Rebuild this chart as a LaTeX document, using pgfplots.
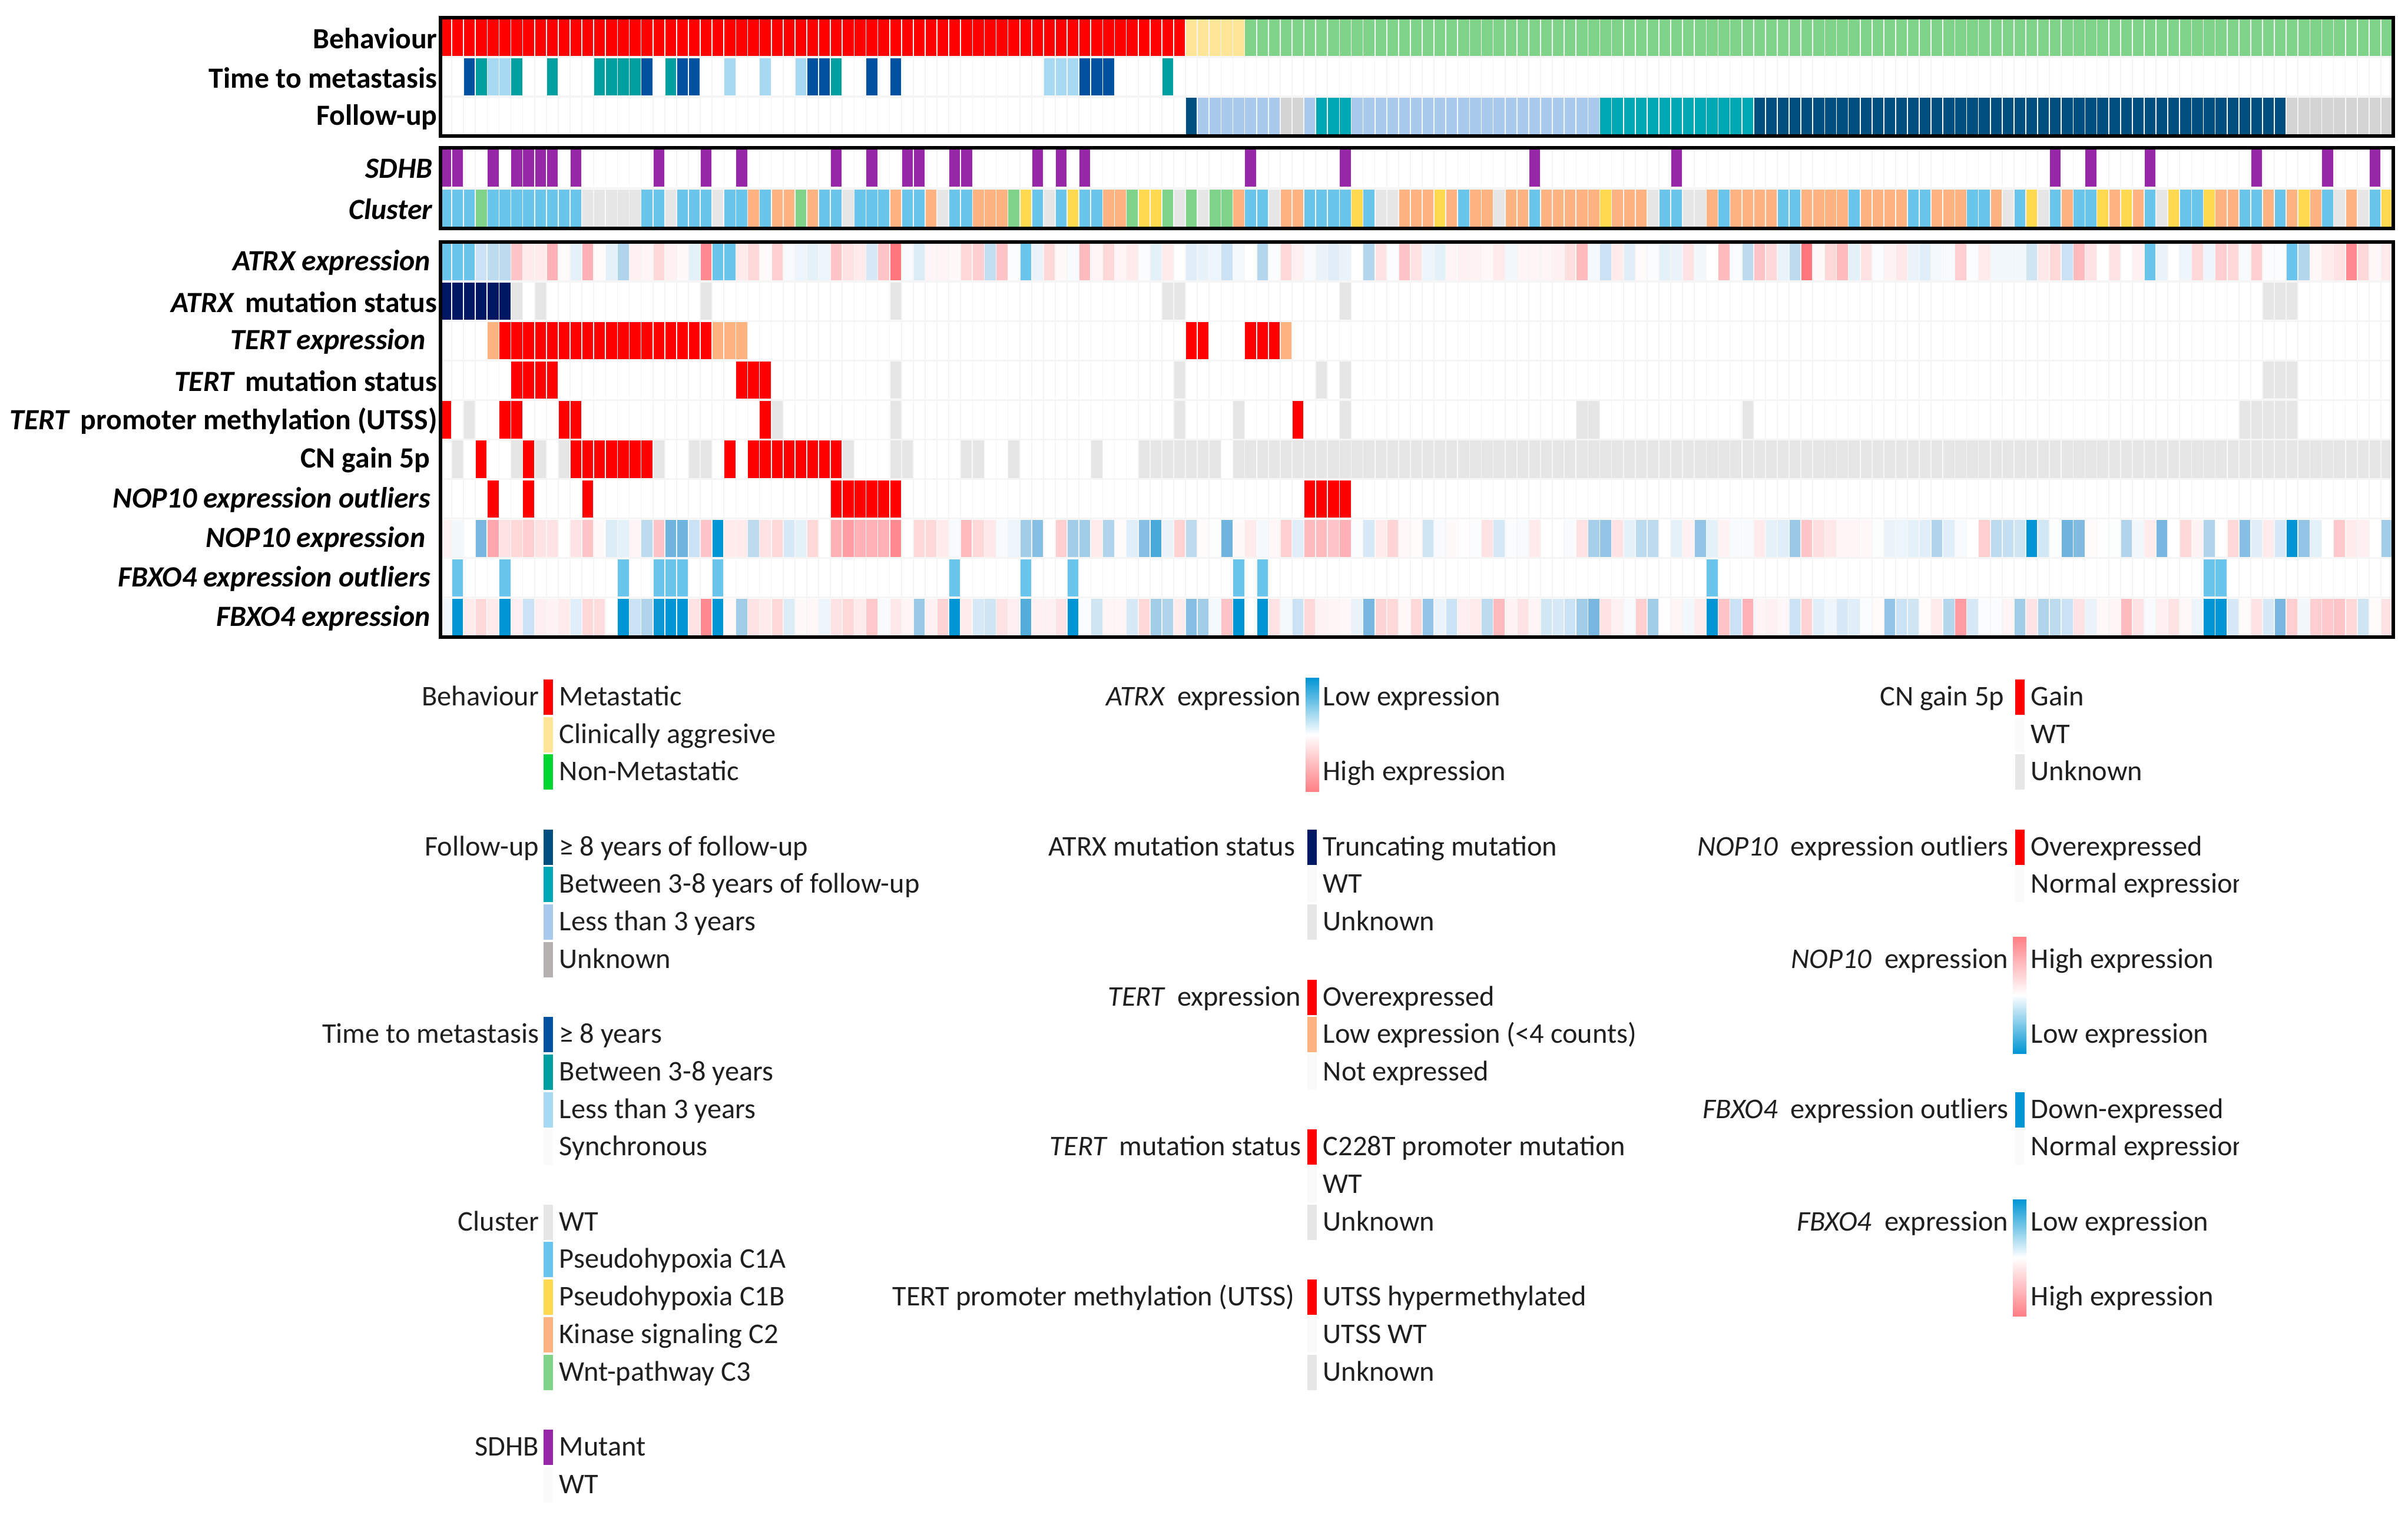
\documentclass[border=0pt]{standalone}
\usepackage{fontspec}
\setmainfont{Carlito}
\usepackage{pgfplots}
\usepackage{pgfplotstable}
\pgfplotsset{compat=1.18}

% 1 px of the reference = 0.25pt
\pgfdeclareplotmark{cell}{\pgfpathrectangle{\pgfpoint{-2.3pt}{-7.9pt}}{\pgfpoint{4.6pt}{15.8pt}}\pgfusepathqfill}
\pgfdeclareplotmark{key}{\pgfpathrectangle{\pgfpoint{-2pt}{-7.4pt}}{\pgfpoint{4pt}{14.8pt}}\pgfusepathqfill}

\definecolor{cRed}{HTML}{FF0000}
\definecolor{cAggr}{HTML}{FFE597}
\definecolor{cNonm}{HTML}{7FD48A}
\definecolor{cNonmKey}{HTML}{00D632}
\definecolor{tBlue}{HTML}{00529F}
\definecolor{tTeal}{HTML}{00A0A0}
\definecolor{tLight}{HTML}{A7DAF2}
\definecolor{fDark}{HTML}{004F7E}
\definecolor{fTeal}{HTML}{00A7B5}
\definecolor{fLight}{HTML}{A9CAEC}
\definecolor{fGrey}{HTML}{D4D4D4}
\definecolor{fGreyKey}{HTML}{B5B0B0}
\definecolor{cPurple}{HTML}{9628A8}
\definecolor{kBlue}{HTML}{69C5EB}
\definecolor{kYellow}{HTML}{FFD94F}
\definecolor{kOrange}{HTML}{FFB380}
\definecolor{kGrey}{HTML}{E6E6E6}
\definecolor{cNavy}{HTML}{001763}
\definecolor{hLow}{HTML}{0095D4}
\definecolor{hHigh}{HTML}{FF7F85}

% columns: sample, ATRX expression, NOP10 expression, FBXO4 expression
\pgfplotstableread{
i atrx nop fbxo
0 -6 0.7 -0.5
1 -6 -0.5 -10
2 -6 0 1
3 -2 -5 2
4 -2.5 4.5 1
5 -2.5 1.5 -10
6 3 2 0.8
7 1 2.5 -2
8 1 1.5 0.8
9 4 1.5 0.6
10 0.2 0 1
11 -1 1.5 -1.2
12 4 3 2
13 0.2 0.3 1.8
14 -1 -1.3 0
15 -3 -1 -10
16 0.7 0.5 -2
17 0.5 -2.5 -3
18 2 3 -9.5
19 0.7 -5.5 -10
20 0.3 -5.5 -10
21 -1 -2 1.5
22 6 3 6
23 -6 -10 -10
24 -6 1 0.4
25 1 1 -3.5
26 2 -2.5 1.5
27 0.2 1.5 1
28 2.5 2 2
29 -0.3 -1.5 -1.3
30 -0.7 -1 0.3
31 -1 2 0.4
32 -0.7 0 -0.7
33 3 4 1.5
34 1.5 5 2
35 1 4 1
36 -1.5 4 2.8
37 3 4 -0.3
38 7 6 1.2
39 -0.3 0 0.5
40 -1.3 2 -3.8
41 0.5 2 0.7
42 0.5 1 2.2
43 0.3 -0.3 -10
44 2 3.5 1
45 2.5 2 -1.5
46 -2.3 1.2 -1.8
47 3 -0.3 1.5
48 -0.2 -0.7 0.8
49 -6 -3.5 -6.5
50 -0.8 -4.5 0.7
51 2 0 0.7
52 0.3 2.5 1.5
53 -0.3 -3.5 -10
54 3.5 -3.5 -0.2
55 0.5 1 -1.8
56 2 -3 0.5
57 0.5 0.2 0.5
58 1 -1.2 -1.5
59 -0.2 -4.5 2
60 -1 -7 -3.5
61 1 -0.8 -3
62 0 2.3 1
63 -1.2 -2.5 -4.5
64 -0.9 0.2 -3.5
65 -0.7 -0.1 -0.4
66 -2 -5.5 3
67 -0.4 0.3 -10
68 0 1 0
69 -2.8 -0.4 -10
70 -0.2 0.4 1.5
71 2 2.5 -0.4
72 0.7 -1.2 -2
73 -0.3 3.5 2
74 -0.8 3.5 0.6
75 -1.2 3 0.5
76 -0.8 4 0.4
77 0 -0.2 -0.8
78 -2.8 -1.5 -5
79 1.5 1 2.2
80 -0.2 2.2 2
81 3 0.4 0.4
82 1.5 0.2 2
83 -0.7 -1.8 -4
84 -1 -0.3 -0.8
85 0.5 0.3 -2
86 0.7 0.1 0.8
87 0.6 -0.2 1
88 0.4 1.5 -2.5
89 1 -1.6 3.5
90 -0.5 -0.2 0.6
91 0.5 -0.3 1.5
92 0.5 1 0.5
93 0.5 0 -1.7
94 0.7 0 -1.5
95 1.7 -0.3 -2
96 3.5 1.5 -3.5
97 -0.4 -3.3 -5
98 -2 -4 1.5
99 1 1.5 0.7
100 -1.2 -1 -0.3
101 0.2 -2.5 2.5
102 -0.2 -2.5 -3.5
103 -1 0 0.1
104 -0.8 -1 0.5
105 1.5 0.7 -0.5
106 -0.5 -4 1
107 0 -1 -10
108 3.5 0.6 3
109 -0.2 -0.3 -2
110 -2.5 -0.3 4
111 3 1 0.5
112 2 -1 0.7
113 -0.8 -1.2 0.4
114 -2.5 -3.8 -2
115 7 3 2.3
116 0.3 1.7 -1.2
117 2 1.2 -0.6
118 3.5 0.5 -1.5
119 -1 0.5 -1.2
120 1.5 0.4 -0.2
121 -0.2 -0.1 0.2
122 0.6 -0.8 -4
123 1.2 -0.7 -2
124 -0.8 -1 -1.8
125 -1.2 -1.2 0.2
126 -0.4 -3 1
127 -0.3 -1.2 -2.8
128 2.5 -0.3 5
129 -0.2 0 -1.5
130 1 2.5 -0.2
131 -0.5 -2.5 -0.2
132 -0.5 -2.2 0.5
133 -0.5 -1.8 -3.5
134 -1.8 -10 1.5
135 1.2 -1.7 -3
136 2 -0.1 -2.5
137 -2 -5.5 -2
138 3.5 -4.7 1.5
139 1.5 0.2 -0.8
140 0 0.1 0.4
141 1.5 -0.1 0.5
142 0 -3 3.5
143 0.7 -0.5 1.5
144 -6 1 -0.3
145 -0.8 -5 0.8
146 0 0 1.5
147 -0.6 2 0.4
148 2 0.6 -0.7
149 -0.6 -3 -10
150 2.5 0 -10
151 2 2 -1.5
152 -0.3 -4.5 0.2
153 2.5 -1.2 1.5
154 -0.2 1 -1.5
155 -0.2 -1.5 -5
156 -6 -10 2.5
157 -2.8 -4 -0.5
158 0.4 -1 2.5
159 1 0 2.8
160 1.5 2.8 3
161 6 1 2
162 2 0.8 -1.8
163 0.4 0 0.2
164 1 -3.5 1.5
}\heatdata

\tikzset{
  lt/.style={anchor=base west,inner sep=0pt,font=\fontsize{12.1}{14}\selectfont,text=black!88},
  rt/.style={anchor=base east,inner sep=0pt,font=\fontsize{12.1}{14}\selectfont,text=black!88},
}
\pgfplotsset{
  panel/.style={
    scale only axis,
    anchor=south west,
    width=829pt,
    xmin=-0.448, xmax=164.55,
    y dir=reverse,
    ymin=-0.5,
    xtick={-0.5,0.5,...,164.5},
    xticklabels={},
    xmajorgrids=true,
    yminorgrids=true,
    grid style={color=black!4,line width=0.4pt},
    minor grid style={color=black!4,line width=0.8pt},
    major tick length=0pt,
    minor tick length=0pt,
    axis line style={draw=none},
    yticklabel style={font=\fontsize{12.45}{15}\selectfont\bfseries,anchor=east,inner sep=0pt,xshift=-1.2pt,yshift=-0.4pt},
    colormap={heat}{rgb255(0)=(0,149,212) rgb255(5)=(122,183,224) rgb255(10)=(255,255,255) rgb255(20)=(255,60,70)},
    colormap name=heat,
    point meta min=-10, point meta max=10,
    after end axis/.code={\draw[line width=1.3pt] (rel axis cs:0,0) rectangle (rel axis cs:1,1);},
  },
  cell/.style={only marks,mark=cell,color=#1},
  heat/.style={scatter,only marks,mark=cell,point meta=\thisrow{#1}},
  key/.style={only marks,mark=key,color=#1},
}

\begin{document}
\begin{tikzpicture}
\useasboundingbox (0,0) rectangle (1022.25pt,643pt);

% clinical tracks
\begin{axis}[panel, at={(187pt,585.25pt)}, height=50.25pt, ymax=2.5,
  ytick={0,1,2}, minor ytick={0.5,1.5},
  yticklabels={Behaviour,Time to metastasis,Follow-up}]
\addplot[cell=cRed] coordinates {(0,0)(1,0)(2,0)(3,0)(4,0)(5,0)(6,0)(7,0)(8,0)(9,0)(10,0)(11,0)(12,0)(13,0)(14,0)(15,0)(16,0)(17,0)(18,0)(19,0)(20,0)(21,0)(22,0)(23,0)(24,0)(25,0)(26,0)(27,0)(28,0)(29,0)(30,0)(31,0)(32,0)(33,0)(34,0)(35,0)(36,0)(37,0)(38,0)(39,0)(40,0)(41,0)(42,0)(43,0)(44,0)(45,0)(46,0)(47,0)(48,0)(49,0)(50,0)(51,0)(52,0)(53,0)(54,0)(55,0)(56,0)(57,0)(58,0)(59,0)(60,0)(61,0)(62,0)};
\addplot[cell=cAggr] coordinates {(63,0)(64,0)(65,0)(66,0)(67,0)};
\addplot[cell=cNonm] coordinates {(68,0)(69,0)(70,0)(71,0)(72,0)(73,0)(74,0)(75,0)(76,0)(77,0)(78,0)(79,0)(80,0)(81,0)(82,0)(83,0)(84,0)(85,0)(86,0)(87,0)(88,0)(89,0)(90,0)(91,0)(92,0)(93,0)(94,0)(95,0)(96,0)(97,0)(98,0)(99,0)(100,0)(101,0)(102,0)(103,0)(104,0)(105,0)(106,0)(107,0)(108,0)(109,0)(110,0)(111,0)(112,0)(113,0)(114,0)(115,0)(116,0)(117,0)(118,0)(119,0)(120,0)(121,0)(122,0)(123,0)(124,0)(125,0)(126,0)(127,0)(128,0)(129,0)(130,0)(131,0)(132,0)(133,0)(134,0)(135,0)(136,0)(137,0)(138,0)(139,0)(140,0)(141,0)(142,0)(143,0)(144,0)(145,0)(146,0)(147,0)(148,0)(149,0)(150,0)(151,0)(152,0)(153,0)(154,0)(155,0)(156,0)(157,0)(158,0)(159,0)(160,0)(161,0)(162,0)(163,0)(164,0)};
\addplot[cell=tBlue] coordinates {(2,1)(17,1)(20,1)(21,1)(31,1)(32,1)(36,1)(38,1)(54,1)(55,1)(56,1)};
\addplot[cell=tTeal] coordinates {(3,1)(6,1)(9,1)(13,1)(14,1)(15,1)(16,1)(19,1)(33,1)(61,1)};
\addplot[cell=tLight] coordinates {(4,1)(5,1)(24,1)(27,1)(30,1)(51,1)(52,1)(53,1)};
\addplot[cell=fDark] coordinates {(63,2)(111,2)(112,2)(113,2)(114,2)(115,2)(116,2)(117,2)(118,2)(119,2)(120,2)(121,2)(122,2)(123,2)(124,2)(125,2)(126,2)(127,2)(128,2)(129,2)(130,2)(131,2)(132,2)(133,2)(134,2)(135,2)(136,2)(137,2)(138,2)(139,2)(140,2)(141,2)(142,2)(143,2)(144,2)(145,2)(146,2)(147,2)(148,2)(149,2)(150,2)(151,2)(152,2)(153,2)(154,2)(155,2)};
\addplot[cell=fLight] coordinates {(64,2)(65,2)(66,2)(67,2)(68,2)(69,2)(70,2)(73,2)(77,2)(78,2)(79,2)(80,2)(81,2)(82,2)(83,2)(84,2)(85,2)(86,2)(87,2)(88,2)(89,2)(90,2)(91,2)(92,2)(93,2)(94,2)(95,2)(96,2)(97,2)};
\addplot[cell=fTeal] coordinates {(74,2)(75,2)(76,2)(98,2)(99,2)(100,2)(101,2)(102,2)(103,2)(104,2)(105,2)(106,2)(107,2)(108,2)(109,2)(110,2)};
\addplot[cell=fGrey] coordinates {(71,2)(72,2)(156,2)(157,2)(158,2)(159,2)(160,2)(161,2)(162,2)(163,2)(164,2)};
\end{axis}

% SDHB and cluster
\begin{axis}[panel, at={(187pt,546pt)}, height=34.25pt, ymax=1.5,
  ytick={0,1}, minor ytick={0.5},
  yticklabels={\itshape SDHB\kern2pt,\itshape Cluster\kern2pt}]
\addplot[cell=cPurple] coordinates {(0,0)(1,0)(4,0)(6,0)(7,0)(8,0)(9,0)(11,0)(18,0)(22,0)(25,0)(33,0)(36,0)(39,0)(40,0)(43,0)(44,0)(50,0)(52,0)(54,0)(68,0)(76,0)(92,0)(104,0)(136,0)(139,0)(144,0)(153,0)(159,0)(163,0)};
\addplot[cell=kBlue] coordinates {(0,1)(1,1)(2,1)(4,1)(5,1)(6,1)(7,1)(8,1)(9,1)(10,1)(11,1)(17,1)(18,1)(20,1)(21,1)(22,1)(24,1)(25,1)(27,1)(32,1)(33,1)(35,1)(36,1)(37,1)(39,1)(40,1)(43,1)(44,1)(50,1)(52,1)(54,1)(55,1)(68,1)(69,1)(73,1)(74,1)(75,1)(76,1)(78,1)(86,1)(92,1)(103,1)(104,1)(108,1)(113,1)(114,1)(119,1)(124,1)(125,1)(129,1)(130,1)(133,1)(136,1)(138,1)(139,1)(144,1)(147,1)(148,1)(152,1)(153,1)(155,1)(159,1)(163,1)};
\addplot[cell=cNonm] coordinates {(3,1)(30,1)(48,1)(58,1)(61,1)(63,1)(65,1)(66,1)};
\addplot[cell=kGrey] coordinates {(12,1)(13,1)(14,1)(15,1)(16,1)(19,1)(23,1)(34,1)(42,1)(51,1)(62,1)(64,1)(70,1)(79,1)(80,1)(89,1)(102,1)(105,1)(106,1)(132,1)(135,1)(145,1)(160,1)(162,1)};
\addplot[cell=kYellow] coordinates {(49,1)(53,1)(59,1)(60,1)(77,1)(84,1)(98,1)(134,1)(140,1)(142,1)(146,1)(149,1)(157,1)(164,1)};
\addplot[cell=kOrange] coordinates {(26,1)(28,1)(29,1)(31,1)(38,1)(41,1)(45,1)(46,1)(47,1)(56,1)(57,1)(67,1)(71,1)(72,1)(81,1)(82,1)(83,1)(85,1)(87,1)(88,1)(90,1)(91,1)(93,1)(94,1)(95,1)(96,1)(97,1)(99,1)(100,1)(101,1)(107,1)(109,1)(110,1)(111,1)(112,1)(115,1)(116,1)(117,1)(118,1)(120,1)(121,1)(122,1)(123,1)(126,1)(127,1)(128,1)(131,1)(137,1)(141,1)(143,1)(150,1)(151,1)(154,1)(156,1)(158,1)(161,1)};
\end{axis}

% molecular tracks
\begin{axis}[panel, at={(187pt,372.5pt)}, height=167.75pt, ymax=9.5,
  ytick={0,1,...,9}, minor ytick={0.5,1.5,...,8.5},
  yticklabels={
    {\itshape ATRX expression\kern2.8pt},
    {\itshape ATRX\kern2pt\upshape\ mutation status},
    {\itshape TERT expression\kern5pt},
    {\itshape TERT\kern2pt\upshape\ mutation status},
    {\itshape TERT\kern2pt\upshape\ promoter methylation (UTSS)},
    {CN gain 5p\kern3pt},
    {\itshape NOP10 expression outliers\kern2.8pt},
    {\itshape NOP10 expression\kern5pt},
    {\itshape FBXO4 expression outliers\kern2.8pt},
    {\itshape FBXO4 expression\kern2.8pt}}]
\addplot[heat=atrx] table[x=i,y expr=0] {\heatdata};
\addplot[heat=nop] table[x=i,y expr=7] {\heatdata};
\addplot[heat=fbxo] table[x=i,y expr=9] {\heatdata};
\addplot[cell=kBlue] coordinates {(0,0)(1,0)(2,0)(23,0)(24,0)(49,0)(144,0)(156,0)};
\addplot[cell=cNavy] coordinates {(0,1)(1,1)(2,1)(3,1)(4,1)(5,1)};
\addplot[cell=kGrey] coordinates {(6,1)(8,1)(22,1)(38,1)(61,1)(62,1)(76,1)(154,1)(155,1)(156,1)};
\addplot[cell=cRed] coordinates {(5,2)(6,2)(7,2)(8,2)(9,2)(10,2)(11,2)(12,2)(13,2)(14,2)(15,2)(16,2)(17,2)(18,2)(19,2)(20,2)(21,2)(22,2)(63,2)(64,2)(68,2)(69,2)(70,2)};
\addplot[cell=kOrange] coordinates {(4,2)(23,2)(24,2)(25,2)(71,2)};
\addplot[cell=cRed] coordinates {(6,3)(7,3)(8,3)(9,3)(25,3)(26,3)(27,3)};
\addplot[cell=kGrey] coordinates {(38,3)(62,3)(74,3)(76,3)(154,3)(155,3)(156,3)};
\addplot[cell=cRed] coordinates {(0,4)(5,4)(6,4)(10,4)(11,4)(27,4)(72,4)};
\addplot[cell=kGrey] coordinates {(2,4)(28,4)(38,4)(62,4)(67,4)(76,4)(96,4)(97,4)(110,4)(152,4)(153,4)(154,4)(155,4)(156,4)};
\addplot[cell=cRed] coordinates {(3,5)(7,5)(11,5)(12,5)(13,5)(14,5)(15,5)(16,5)(17,5)(24,5)(26,5)(27,5)(28,5)(29,5)(30,5)(31,5)(32,5)(33,5)};
\addplot[cell=kGrey] coordinates {(1,5)(6,5)(8,5)(10,5)(18,5)(21,5)(22,5)(34,5)(38,5)(39,5)(44,5)(45,5)(48,5)(55,5)(59,5)(60,5)(61,5)(62,5)(63,5)(64,5)(65,5)(67,5)(68,5)(69,5)(70,5)(71,5)(72,5)(73,5)(74,5)(75,5)(76,5)(77,5)(78,5)(79,5)(80,5)(81,5)(82,5)(83,5)(84,5)(85,5)(86,5)(87,5)(88,5)(89,5)(90,5)(91,5)(92,5)(93,5)(94,5)(95,5)(96,5)(97,5)(98,5)(99,5)(100,5)(101,5)(102,5)(103,5)(104,5)(105,5)(106,5)(107,5)(108,5)(109,5)(110,5)(111,5)(112,5)(113,5)(114,5)(115,5)(116,5)(117,5)(118,5)(119,5)(120,5)(121,5)(122,5)(123,5)(124,5)(125,5)(126,5)(127,5)(128,5)(129,5)(130,5)(131,5)(132,5)(133,5)(134,5)(135,5)(136,5)(137,5)(138,5)(139,5)(140,5)(141,5)(142,5)(143,5)(144,5)(145,5)(146,5)(147,5)(148,5)(149,5)(150,5)(151,5)(152,5)(153,5)(154,5)(155,5)(156,5)(157,5)(158,5)(159,5)(160,5)(161,5)(162,5)(163,5)(164,5)};
\addplot[cell=cRed] coordinates {(4,6)(7,6)(12,6)(33,6)(34,6)(35,6)(36,6)(37,6)(38,6)(73,6)(74,6)(75,6)(76,6)};
\addplot[cell=kBlue] coordinates {(1,8)(5,8)(15,8)(18,8)(19,8)(20,8)(23,8)(43,8)(49,8)(53,8)(67,8)(69,8)(107,8)(149,8)(150,8)};
\end{axis}

% legend, in pixels of the reference
\begin{axis}[at={(0pt,0pt)}, anchor=south west, scale only axis, width=1022.25pt, height=643pt,
  xmin=0, xmax=4089, ymin=0, ymax=2572, y dir=reverse, hide axis, clip=false]
% first column
\addplot[key=cRed] coordinates {(931,1184)};
\addplot[key=cAggr] coordinates {(931,1248)};
\addplot[key=cNonmKey] coordinates {(931,1311)};
\addplot[key=fDark] coordinates {(931,1439)};
\addplot[key=fTeal] coordinates {(931,1502)};
\addplot[key=fLight] coordinates {(931,1566)};
\addplot[key=fGreyKey] coordinates {(931,1630)};
\addplot[key=tBlue] coordinates {(931,1757)};
\addplot[key=tTeal] coordinates {(931,1821)};
\addplot[key=tLight] coordinates {(931,1885)};
\addplot[key=black!2] coordinates {(931,1948)};
\addplot[key=kGrey] coordinates {(931,2076)};
\addplot[key=kBlue] coordinates {(931,2139)};
\addplot[key=kYellow] coordinates {(931,2203)};
\addplot[key=kOrange] coordinates {(931,2267)};
\addplot[key=cNonm] coordinates {(931,2331)};
\addplot[key=cPurple] coordinates {(931,2458)};
\addplot[key=black!2] coordinates {(931,2522)};
\node[rt] at (axis cs:916,1198) {Behaviour};
\node[lt] at (axis cs:949,1198) {Metastatic};
\node[lt] at (axis cs:949,1262) {Clinically aggresive};
\node[lt] at (axis cs:949,1325) {Non-Metastatic};
\node[rt] at (axis cs:916,1453) {Follow-up};
\node[lt] at (axis cs:949,1453) {≥ 8 years of follow-up};
\node[lt] at (axis cs:949,1516) {Between 3-8 years of follow-up};
\node[lt] at (axis cs:949,1580) {Less than 3 years};
\node[lt] at (axis cs:949,1644) {Unknown};
\node[rt] at (axis cs:916,1771) {Time to metastasis};
\node[lt] at (axis cs:949,1771) {≥ 8 years};
\node[lt] at (axis cs:949,1835) {Between 3-8 years};
\node[lt] at (axis cs:949,1899) {Less than 3 years};
\node[lt] at (axis cs:949,1962) {Synchronous};
\node[rt] at (axis cs:916,2090) {Cluster};
\node[lt] at (axis cs:949,2090) {WT};
\node[lt] at (axis cs:949,2153) {Pseudohypoxia C1A};
\node[lt] at (axis cs:949,2217) {Pseudohypoxia C1B};
\node[lt] at (axis cs:949,2281) {Kinase signaling C2};
\node[lt] at (axis cs:949,2345) {Wnt-pathway C3};
\node[rt] at (axis cs:916,2472) {SDHB};
\node[lt] at (axis cs:949,2472) {Mutant};
\node[lt] at (axis cs:949,2536) {WT};
% second column
\shade[top color=hLow,bottom color=hHigh,middle color=white] (axis cs:2217,1151) rectangle (axis cs:2240,1344);
\addplot[key=cNavy] coordinates {(2228,1439)};
\addplot[key=black!2] coordinates {(2228,1502)};
\addplot[key=kGrey] coordinates {(2228,1566)};
\addplot[key=cRed] coordinates {(2228,1694)};
\addplot[key=kOrange] coordinates {(2228,1757)};
\addplot[key=black!2] coordinates {(2228,1821)};
\addplot[key=cRed] coordinates {(2228,1948)};
\addplot[key=black!2] coordinates {(2228,2012)};
\addplot[key=kGrey] coordinates {(2228,2076)};
\addplot[key=cRed] coordinates {(2228,2203)};
\addplot[key=black!2] coordinates {(2228,2267)};
\addplot[key=kGrey] coordinates {(2228,2331)};
\node[rt] at (axis cs:2210,1198) {\itshape ATRX\upshape\ \ expression};
\node[lt] at (axis cs:2246,1198) {Low expression};
\node[lt] at (axis cs:2246,1325) {High expression};
\node[rt] at (axis cs:2200,1453) {ATRX mutation status};
\node[lt] at (axis cs:2246,1453) {Truncating mutation};
\node[lt] at (axis cs:2246,1516) {WT};
\node[lt] at (axis cs:2246,1580) {Unknown};
\node[rt] at (axis cs:2210,1708) {\itshape TERT\upshape\ \ expression};
\node[lt] at (axis cs:2246,1708) {Overexpressed};
\node[lt] at (axis cs:2246,1771) {Low expression (<4 counts)};
\node[lt] at (axis cs:2246,1835) {Not expressed};
\node[rt] at (axis cs:2210,1962) {\itshape TERT\upshape\ \ mutation status};
\node[lt] at (axis cs:2246,1962) {C228T promoter mutation};
\node[lt] at (axis cs:2246,2026) {WT};
\node[lt] at (axis cs:2246,2090) {Unknown};
\node[rt] at (axis cs:2199,2217) {TERT promoter methylation (UTSS)};
\node[lt] at (axis cs:2246,2217) {UTSS hypermethylated};
\node[lt] at (axis cs:2246,2281) {UTSS WT};
\node[lt] at (axis cs:2246,2345) {Unknown};
% third column
\addplot[key=cRed] coordinates {(3430,1184)};
\addplot[key=black!2] coordinates {(3430,1248)};
\addplot[key=kGrey] coordinates {(3430,1311)};
\addplot[key=cRed] coordinates {(3430,1439)};
\addplot[key=black!2] coordinates {(3430,1502)};
\shade[top color=hHigh,bottom color=hLow,middle color=white] (axis cs:3418,1591) rectangle (axis cs:3441,1789);
\addplot[key=hLow] coordinates {(3430,1885)};
\addplot[key=black!2] coordinates {(3430,1948)};
\shade[top color=hLow,bottom color=hHigh,middle color=white] (axis cs:3418,2037) rectangle (axis cs:3441,2235);
\node[rt] at (axis cs:3404,1198) {CN gain 5p};
\node[lt] at (axis cs:3448,1198) {Gain};
\node[lt] at (axis cs:3448,1262) {WT};
\node[lt] at (axis cs:3448,1325) {Unknown};
\node[rt] at (axis cs:3411,1453) {\itshape NOP10\upshape\ \ expression outliers};
\node[lt] at (axis cs:3448,1453) {Overexpressed};
\node[lt] at (axis cs:3448,1516) {Normal expression};
\node[rt] at (axis cs:3411,1644) {\itshape NOP10\upshape\ \ expression};
\node[lt] at (axis cs:3448,1644) {High expression};
\node[lt] at (axis cs:3448,1771) {Low expression};
\node[rt] at (axis cs:3411,1899) {\itshape FBXO4\upshape\ \ expression outliers};
\node[lt] at (axis cs:3448,1899) {Down-expressed};
\node[lt] at (axis cs:3448,1962) {Normal expression};
\node[rt] at (axis cs:3411,2090) {\itshape FBXO4\upshape\ \ expression};
\node[lt] at (axis cs:3448,2090) {Low expression};
\node[lt] at (axis cs:3448,2217) {High expression};
% the reference cuts these two labels off
\fill[white] (axis cs:3802,1470) rectangle (axis cs:3900,1540);
\fill[white] (axis cs:3802,1916) rectangle (axis cs:3900,1986);
\end{axis}
\end{tikzpicture}
\end{document}
